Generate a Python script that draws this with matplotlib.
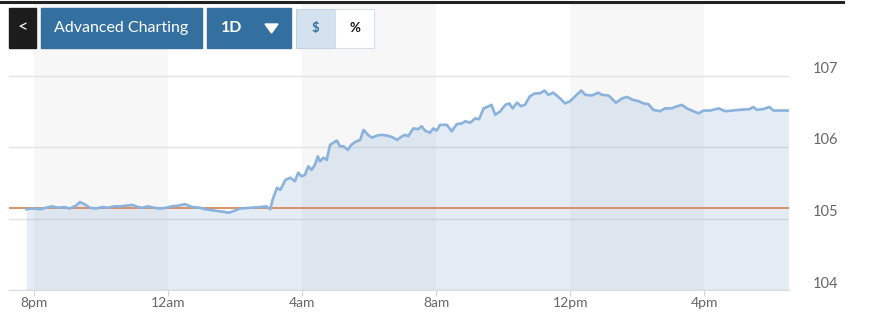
import matplotlib.pyplot as plt
from matplotlib.patches import Rectangle, Polygon
from matplotlib.transforms import ScaledTranslation

plt.rcParams['font.family'] = ['Lato', 'DejaVu Sans']

# minutes after 8pm, price
minutes = [-14, -4, 11, 21, 32, 43, 54, 64, 75, 82, 90, 100, 111, 122, 133, 143, 154, 165,
           176, 186, 193, 204, 215, 226, 236, 247, 258, 270, 283, 297, 306, 324, 342, 349,
           356, 369, 387, 405, 416, 423, 427, 435, 441, 450, 459, 467, 473, 479, 485, 491,
           497, 503, 508, 512, 518, 524, 530, 536, 542, 548, 554, 562, 568, 575, 584, 590,
           598, 605, 614, 623, 632, 641, 650, 659, 665, 670, 679, 688, 694, 700, 709, 715,
           721, 727, 739, 748, 757, 766, 772, 781, 790, 797, 805, 814, 819, 826, 835, 844,
           851, 857, 865, 872, 879, 888, 897, 906, 914, 921, 930, 942, 951, 960, 969, 980,
           987, 999, 1010, 1017, 1029, 1042, 1053, 1062, 1072, 1083, 1091, 1100, 1109, 1121,
           1130, 1142, 1148, 1160, 1169, 1178, 1190, 1199, 1211, 1226, 1238, 1250, 1264, 1282,
           1288, 1294, 1306, 1317, 1324, 1336, 1351]
prices = [105.13, 105.14, 105.13, 105.15, 105.17, 105.15, 105.16, 105.14, 105.18, 105.23,
          105.20, 105.15, 105.14, 105.16, 105.15, 105.17, 105.17, 105.18, 105.19, 105.16,
          105.15, 105.17, 105.15, 105.14, 105.15, 105.17, 105.18, 105.20, 105.16, 105.15,
          105.13, 105.11, 105.09, 105.08, 105.10, 105.14, 105.15, 105.16, 105.17, 105.13,
          105.26, 105.43, 105.40, 105.54, 105.57, 105.52, 105.64, 105.59, 105.61, 105.73,
          105.68, 105.75, 105.87, 105.80, 105.85, 105.82, 106.03, 106.06, 106.09, 106.01,
          106.01, 105.96, 106.03, 106.07, 106.10, 106.24, 106.17, 106.13, 106.16, 106.17,
          106.16, 106.14, 106.10, 106.15, 106.17, 106.15, 106.26, 106.25, 106.29, 106.23,
          106.20, 106.26, 106.23, 106.31, 106.31, 106.22, 106.32, 106.33, 106.36, 106.34,
          106.40, 106.39, 106.54, 106.57, 106.59, 106.45, 106.50, 106.59, 106.61, 106.54,
          106.62, 106.57, 106.59, 106.71, 106.75, 106.75, 106.79, 106.73, 106.76, 106.68,
          106.61, 106.64, 106.71, 106.79, 106.73, 106.72, 106.76, 106.73, 106.72, 106.62,
          106.68, 106.70, 106.66, 106.64, 106.61, 106.60, 106.52, 106.50, 106.54, 106.54,
          106.56, 106.59, 106.54, 106.51, 106.47, 106.51, 106.51, 106.54, 106.50, 106.51,
          106.52, 106.53, 106.56, 106.52, 106.53, 106.56, 106.51, 106.51, 106.51]
prev_close = 105.15

tick_minutes = [0, 240, 480, 720, 960, 1200]
tick_labels = ['8pm', '12am', '4am', '8am', '12pm', '4pm']
bands = [(0, 240), (480, 720), (960, 1200)]
y_ticks = [104, 105, 106, 107]

fig = plt.figure(figsize=(8.7, 3.17), dpi=100)
ax = fig.add_axes([9/870, 27/317, 780/870, 286/317])

for a, b in bands:
    ax.axvspan(a, b, color='#f7f7f7', lw=0, zorder=0.1)

ax.fill_between(minutes, prices, 104, color='#4a86c5', alpha=0.15, lw=0, zorder=1)
ax.axhline(prev_close, color='#d98a5c', lw=1.3, zorder=2)
ax.plot(minutes, prices, color='#8ab2dc', lw=1.9, zorder=3)

ax.set_xlim(-45, 1352)
ax.set_ylim(104, 108)
ax.set_xticks(tick_minutes)
ax.set_xticklabels(tick_labels)
ax.set_yticks(y_ticks)
ax.set_axisbelow(True)
ax.yaxis.grid(True, color='#e3e3e3', lw=1)
ax.set_facecolor('white')
for s in ['top', 'left', 'right']:
    ax.spines[s].set_visible(False)
ax.spines['bottom'].set_color('#dcdcdc')
ax.tick_params(axis='x', length=4, color='#ccd6eb', pad=1, labelsize=10, labelcolor='#666666')
ax.tick_params(axis='y', length=0, pad=17, labelsize=10.5, labelcolor='#666666',
               labelright=True, labelleft=False)
for lab in ax.get_yticklabels():
    lab.set_horizontalalignment('left')
    lab.set_transform(lab.get_transform() + ScaledTranslation(0, 8/100, fig.dpi_scale_trans))

# toolbar on top
ov = fig.add_axes([0, 0, 1, 1], zorder=10)
ov.set_xlim(0, 870)
ov.set_ylim(317, 0)
ov.axis('off')
ov.plot([0, 843], [1.5, 1.5], color='#222222', lw=2.2)
ov.add_patch(Rectangle((9, 8), 27, 40, color='#1c1c1c'))
ov.text(22.5, 27.5, '<', color='white', fontsize=13, ha='center', va='center')
ov.add_patch(Rectangle((41, 8), 161, 40, color='#33709f'))
ov.text(121.5, 28, 'Advanced Charting', color='white', fontsize=11.5, ha='center', va='center')
ov.add_patch(Rectangle((207, 8), 84, 40, color='#33709f'))
ov.text(232, 28, '1D', color='white', fontsize=11.5, fontweight='bold', ha='center', va='center')
ov.add_patch(Polygon([(265, 24), (278, 24), (271.5, 33)], color='white'))
ov.add_patch(Rectangle((296, 8.5), 39, 39, facecolor='#d4e2ef', edgecolor='#c4d2df', lw=0.8))
ov.text(315.5, 28, '$', color='#33709f', fontsize=9.5, fontweight='bold', ha='center', va='center')
ov.add_patch(Rectangle((335, 8.5), 39, 39, facecolor='white', edgecolor='#d6dde4', lw=0.8))
ov.text(354.5, 28, '%', color='#111111', fontsize=9.5, fontweight='bold', ha='center', va='center')

fig.savefig('out.png', dpi=100)
